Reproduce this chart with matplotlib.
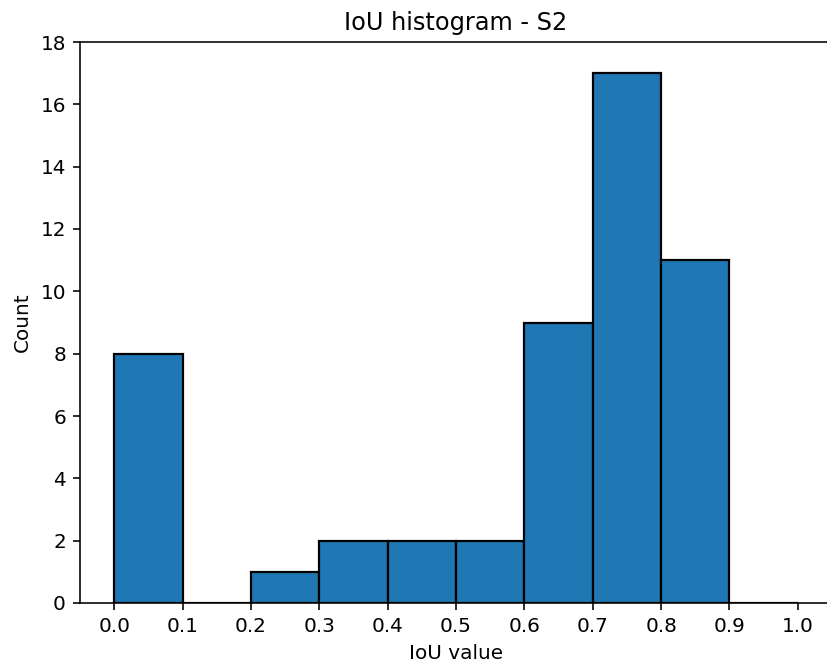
import matplotlib
matplotlib.use("Agg")
from matplotlib import pyplot as plt
import numpy as np

# IoU histogram counts per 0.1 bin
bin_edges = [0.0, 0.1, 0.2, 0.3, 0.4, 0.5, 0.6, 0.7, 0.8, 0.9, 1.0]
counts = [8, 0, 1, 2, 2, 2, 9, 17, 11, 0]
xticks = [0.0, 0.1, 0.2, 0.3, 0.4, 0.5, 0.6, 0.7, 0.8, 0.9, 1.0]

W, H, DPI = 827, 669, 144
fig = plt.figure(figsize=(W / DPI, H / DPI), dpi=DPI)
ax = fig.add_axes([80 / W, (H - 603) / H, (832 - 80) / W, (603 - 42) / H])

centers = (np.array(bin_edges[:-1]) + np.array(bin_edges[1:])) / 2
ax.hist(centers, bins=bin_edges, weights=counts, color='#1f77b4',
        edgecolor='black', linewidth=1.1)

ax.set_xlim(-0.05, 1.05)
ax.set_ylim(0, 18)
ax.set_xticks(xticks)
ax.set_xticklabels([f"{t:.1f}" for t in xticks])
ax.set_yticks(range(0, 19, 2))
ax.set_title('IoU histogram - S2')
ax.set_xlabel('IoU value')
ax.set_ylabel('Count')

fig.savefig('out.png', dpi=DPI)
